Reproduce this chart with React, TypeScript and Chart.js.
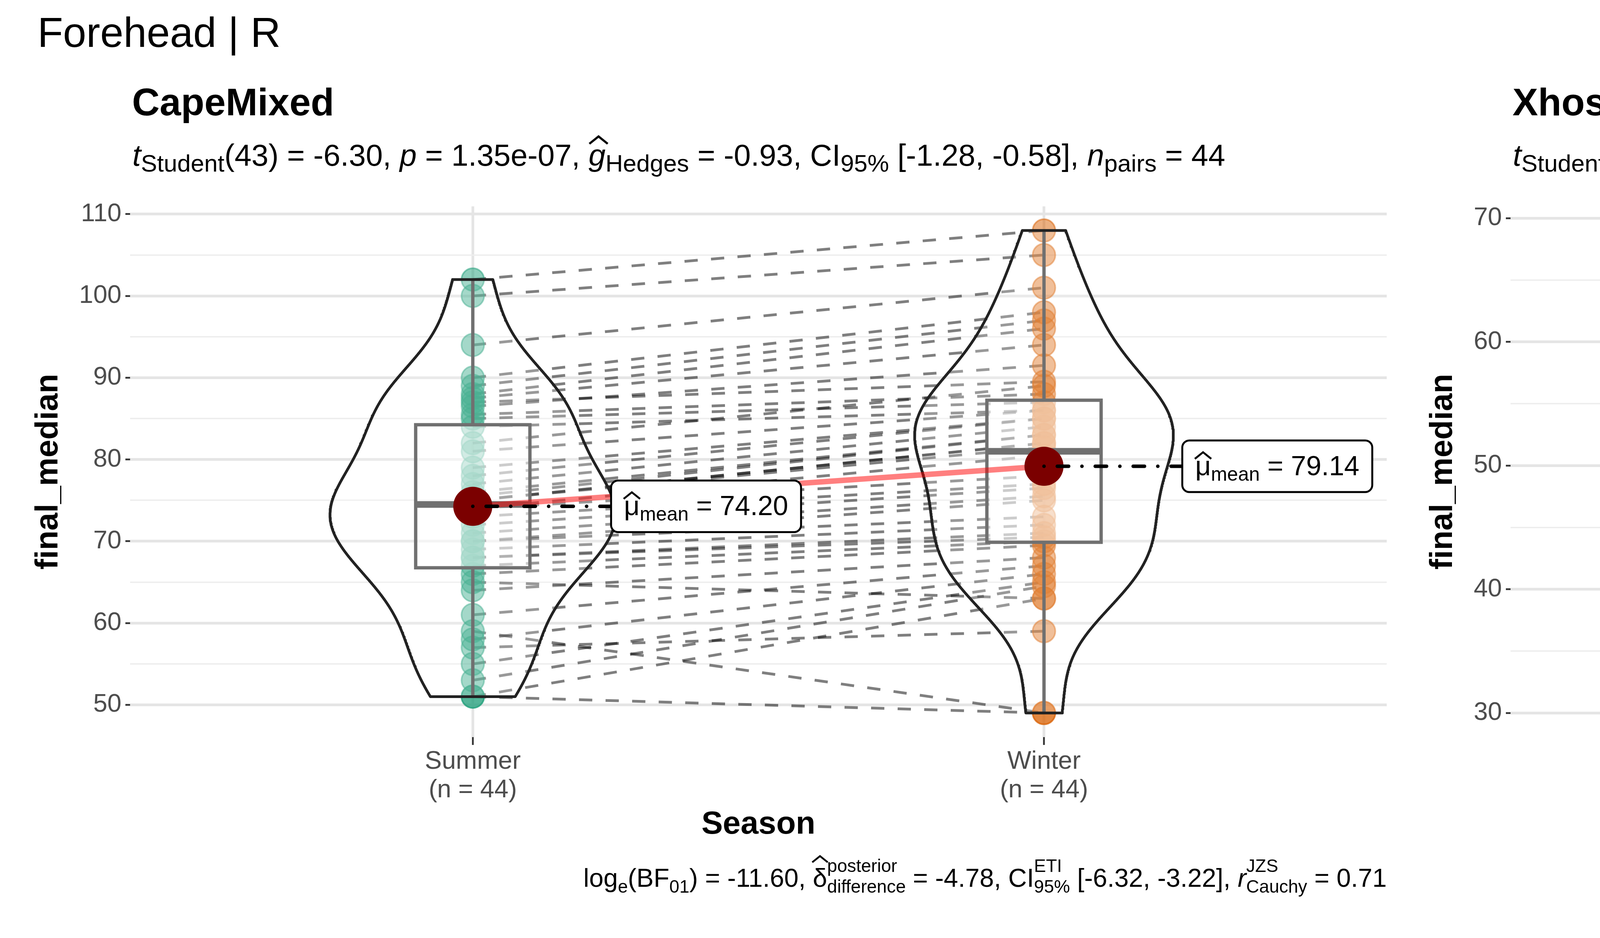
import React, { useEffect, useRef } from "react";
import { Chart, registerables } from "chart.js";

Chart.register(...registerables);

const FONT = '"Liberation Sans", Arial, Helvetica, sans-serif';
Chart.defaults.font.family = FONT;

// ---------------- data ----------------
const categories = ["Summer", "Winter"];

// paired observations (index i in Summer pairs with index i in Winter)
const capeMixedSummer = [102, 100, 94, 90, 89, 88, 87.5, 87, 86.5, 85.5, 85, 84, 82, 81, 79, 78, 77, 76, 75.5, 75, 75, 75, 74, 74, 73, 72, 71, 70, 70, 69, 68, 68, 67, 66, 65, 64, 61, 59, 58, 57, 55, 53, 51, 51];
const capeMixedWinter = [108, 105, 101, 98, 97, 96, 94, 89.5, 91.5, 88, 87, 86, 89, 86, 85, 85, 84, 83, 83, 82, 82, 81.5, 80.5, 78, 77, 76.5, 75.5, 75, 73, 72, 71, 70.5, 70, 69.5, 63, 68, 67, 49, 66, 59, 65, 64.5, 49, 63];

const xhosaSummer = [69, 69, 67, 66, 66, 65, 61.5, 59.5, 59, 59, 58.5, 56.5, 54, 52, 51, 50.5, 50, 50, 49, 48.5, 48, 47.5, 47, 46, 45.5, 45, 43.5, 41.5, 39, 38.5, 38.5, 38, 32, 30];
const xhosaWinter = [64, 59, 60, 60, 40.5, 56, 55, 59, 56.5, 53, 52.5, 51.5, 51, 48, 50, 49, 47, 46, 45, 45, 44.5, 44, 43, 42, 41.5, 41, 38.5, 35, 36, 39, 35, 38, 40, 35];

const capeYMajor = [50, 60, 70, 80, 90, 100, 110];
const capeYMinor = [55, 65, 75, 85, 95, 105];
const xhosaYMajor = [30, 40, 50, 60, 70];
const xhosaYMinor = [35, 45, 55, 65];

const capeMeanLabels = ["74.20", "79.14"];
const xhosaMeanLabels = ["51.15", "47.01"];

const groupColors = ["27,158,119", "217,95,2"];

type Seg = { t: string; it?: boolean; hat?: number; sub?: string; sup?: string };

const capeSubtitle: Seg[] = [
  { t: "t", it: true, sub: "Student" }, { t: "(43) = -6.30, " }, { t: "p", it: true }, { t: " = 1.35e-07, " },
  { t: "g", it: true, hat: 0.72, sub: "Hedges" }, { t: " = -0.93, CI", sub: "95%" }, { t: " [-1.28, -0.58], " },
  { t: "n", it: true, sub: "pairs" }, { t: " = 44" },
];
const xhosaSubtitle: Seg[] = [
  { t: "t", it: true, sub: "Student" }, { t: "(33) = 3.84, " }, { t: "p", it: true }, { t: " = 5.23e-04, " },
  { t: "g", it: true, hat: 0.72, sub: "Hedges" }, { t: " = 0.64, CI", sub: "95%" }, { t: " [0.28, 1.00], " },
  { t: "n", it: true, sub: "pairs" }, { t: " = 34" },
];
const capeCaption: Seg[] = [
  { t: "log", sub: "e" }, { t: "(BF", sub: "01" }, { t: ") = -11.60, " },
  { t: "δ", hat: 0.95, sup: "posterior", sub: "difference" }, { t: " = -4.78, CI", sup: "ETI", sub: "95%" },
  { t: " [-6.32, -3.22], " }, { t: "r", it: true, sup: "JZS", sub: "Cauchy" }, { t: " = 0.71" },
];
const xhosaCaption: Seg[] = [
  { t: "log", sub: "e" }, { t: "(BF", sub: "01" }, { t: ") = -4.04, " },
  { t: "δ", hat: 0.95, sup: "posterior", sub: "difference" }, { t: " = 3.90, CI", sup: "ETI", sub: "95%" },
  { t: " [1.76, 6.12], " }, { t: "r", it: true, sup: "JZS", sub: "Cauchy" }, { t: " = 0.71" },
];

// ---------------- helpers ----------------
function fnt(size: number, it = false, bold = false) {
  return `${it ? "italic " : ""}${bold ? "bold " : ""}${size}px ${FONT}`;
}

type RichStyle = { size: number; script: number; subDy: number; supDy: number; align: "left" | "right"; color: string };

function richWidth(ctx: CanvasRenderingContext2D, segs: Seg[], st: RichStyle) {
  let total = 0;
  const ws = segs.map((s) => {
    ctx.font = fnt(st.size, !!s.it);
    const mw = ctx.measureText(s.t).width;
    ctx.font = fnt(st.script);
    const sw = Math.max(s.sub ? ctx.measureText(s.sub).width : 0, s.sup ? ctx.measureText(s.sup).width : 0);
    total += mw + sw;
    return [mw, sw];
  });
  return { total, ws };
}

function drawRich(ctx: CanvasRenderingContext2D, segs: Seg[], x: number, y: number, st: RichStyle) {
  const { total, ws } = richWidth(ctx, segs, st);
  let cx = st.align === "right" ? x - total : x;
  ctx.save();
  ctx.fillStyle = st.color;
  ctx.strokeStyle = st.color;
  ctx.textAlign = "left";
  ctx.textBaseline = "alphabetic";
  segs.forEach((s, i) => {
    const [mw, sw] = ws[i];
    ctx.font = fnt(st.size, !!s.it);
    ctx.fillText(s.t, cx, y);
    if (s.hat !== undefined) {
      const hc = cx + mw / 2 + (s.it ? st.size * 0.05 : 0);
      const bottom = y - s.hat * st.size;
      const h = 0.24 * st.size;
      const hw = 0.3 * st.size;
      ctx.beginPath();
      ctx.lineWidth = 0.07 * st.size;
      ctx.lineJoin = "miter";
      ctx.moveTo(hc - hw, bottom);
      ctx.lineTo(hc, bottom - h);
      ctx.lineTo(hc + hw, bottom);
      ctx.stroke();
    }
    cx += mw;
    ctx.font = fnt(st.script);
    if (s.sub) ctx.fillText(s.sub, cx, y + st.subDy);
    if (s.sup) ctx.fillText(s.sup, cx, y - st.supDy);
    cx += sw;
  });
  ctx.restore();
  return total;
}

function quantile7(arr: number[], p: number) {
  const s = [...arr].sort((a, b) => a - b);
  const h = (s.length - 1) * p;
  const lo = Math.floor(h);
  const hi = Math.ceil(h);
  return s[lo] + (h - lo) * (s[hi] - s[lo]);
}
function mean(arr: number[]) {
  return arr.reduce((a, b) => a + b, 0) / arr.length;
}
function sd(arr: number[]) {
  const m = mean(arr);
  return Math.sqrt(arr.reduce((a, b) => a + (b - m) * (b - m), 0) / (arr.length - 1));
}
function bwNrd0(x: number[]) {
  const hi = sd(x);
  const iqr = quantile7(x, 0.75) - quantile7(x, 0.25);
  let lo = Math.min(hi, iqr / 1.34);
  if (!(lo > 0)) lo = hi || 1;
  return 0.9 * lo * Math.pow(x.length, -0.2);
}
function kde(x: number[], n = 512) {
  const bw = bwNrd0(x);
  const mn = Math.min(...x);
  const mx = Math.max(...x);
  const out: { y: number; d: number }[] = [];
  const k = 1 / (x.length * bw * Math.sqrt(2 * Math.PI));
  for (let i = 0; i < n; i++) {
    const y = mn + ((mx - mn) * i) / (n - 1);
    let d = 0;
    for (const v of x) {
      const z = (y - v) / bw;
      d += Math.exp(-0.5 * z * z);
    }
    out.push({ y, d: d * k });
  }
  return out;
}

type Panel = {
  title: string;
  summer: number[];
  winter: number[];
  major: number[];
  minor: number[];
  subtitle: Seg[];
  caption: Seg[];
  meanLabels: string[];
  chartLeft: number;
  chartRight: number;
  yTitlePad: number;
  overall: boolean;
};

const panels: Panel[] = [
  {
    title: "CapeMixed", summer: capeMixedSummer, winter: capeMixedWinter, major: capeYMajor, minor: capeYMinor,
    subtitle: capeSubtitle, caption: capeCaption, meanLabels: capeMeanLabels,
    chartLeft: 333, chartRight: 3575, yTitlePad: 55, overall: true,
  },
  {
    title: "Xhosa", summer: xhosaSummer, winter: xhosaWinter, major: xhosaYMajor, minor: xhosaYMinor,
    subtitle: xhosaSubtitle, caption: xhosaCaption, meanLabels: xhosaMeanLabels,
    chartLeft: 267, chartRight: 3512, yTitlePad: 25, overall: false,
  },
];

const CANVAS_W = 3600;
const CANVAS_H = 2400;
const CHART_TOP = 528;
const CHART_BOTTOM = 1886;
const X_AXIS_H = 280;

function buildChart(canvas: HTMLCanvasElement, p: Panel) {
  const groups = [p.summer, p.winter];
  const all = [...p.summer, ...p.winter];
  const dmin = Math.min(...all);
  const dmax = Math.max(...all);
  const padY = (dmax - dmin) * 0.05;
  const yMin = dmin - padY;
  const yMax = dmax + padY;
  const dens = groups.map((g) => kde(g));
  const maxD = Math.max(...dens.map((d) => Math.max(...d.map((q) => q.d))));
  const boxGray = "#4D4D4D";

  const datasets: any[] = [];
  // paired paths
  p.summer.forEach((s, i) => {
    datasets.push({
      data: [{ x: 1, y: s }, { x: 2, y: p.winter[i] }],
      borderColor: "rgba(0,0,0,0.5)", borderWidth: 7, borderDash: [34, 34],
      pointRadius: 0, fill: false, order: 100,
    });
  });
  // points
  groups.forEach((g, gi) => {
    datasets.push({
      data: g.map((v) => ({ x: gi + 1, y: v })),
      showLine: false, pointRadius: 29, pointBorderWidth: 4,
      pointBackgroundColor: `rgba(${groupColors[gi]},0.5)`,
      pointBorderColor: `rgba(${groupColors[gi]},0.5)`,
      order: 90,
    });
  });
  // boxplots
  groups.forEach((g, gi) => {
    const c = gi + 1;
    const q1 = quantile7(g, 0.25);
    const med = quantile7(g, 0.5);
    const q3 = quantile7(g, 0.75);
    const iqr = q3 - q1;
    const hi = Math.max(...g.filter((v) => v <= q3 + 1.5 * iqr));
    const lo = Math.min(...g.filter((v) => v >= q1 - 1.5 * iqr));
    const w = 0.1;
    datasets.push({
      data: [{ x: c - w, y: q1 }, { x: c + w, y: q1 }, { x: c + w, y: q3 }, { x: c - w, y: q3 }, { x: c - w, y: q1 }, { x: c + w, y: q1 }],
      borderColor: boxGray, borderWidth: 8.5, borderJoinStyle: "miter", fill: "shape",
      backgroundColor: "rgba(255,255,255,0.5)", pointRadius: 0, order: 80,
    });
    datasets.push({ data: [{ x: c, y: q3 }, { x: c, y: hi }], borderColor: boxGray, borderWidth: 8.5, pointRadius: 0, fill: false, order: 80 });
    datasets.push({ data: [{ x: c, y: q1 }, { x: c, y: lo }], borderColor: boxGray, borderWidth: 8.5, pointRadius: 0, fill: false, order: 80 });
    datasets.push({ data: [{ x: c - w, y: med }, { x: c + w, y: med }], borderColor: boxGray, borderWidth: 17, pointRadius: 0, fill: false, order: 79 });
  });
  // violins
  dens.forEach((d, gi) => {
    const c = gi + 1;
    const right = d.map((q) => ({ x: c + (0.25 * q.d) / maxD, y: q.y }));
    const left = [...d].reverse().map((q) => ({ x: c - (0.25 * q.d) / maxD, y: q.y }));
    datasets.push({
      data: [...right, ...left, right[0], right[1]],
      borderColor: "#222222", borderWidth: 7, borderJoinStyle: "round", fill: "shape",
      backgroundColor: "rgba(255,255,255,0.2)", pointRadius: 0, tension: 0, order: 70,
    });
  });
  // mean path
  const means = groups.map((g) => mean(g));
  datasets.push({
    data: means.map((m, i) => ({ x: i + 1, y: m })),
    borderColor: "rgba(255,0,0,0.5)", borderWidth: 14, pointRadius: 0, fill: false, order: 60,
  });
  // mean points
  datasets.push({
    data: means.map((m, i) => ({ x: i + 1, y: m })),
    showLine: false, pointRadius: 50, pointBorderWidth: 0,
    pointBackgroundColor: "#7B0000", pointBorderColor: "#7B0000", order: 50,
  });

  const allTicks = [...p.major, ...p.minor].sort((a, b) => a - b);
  const isMajor = (c: any) => c && c.tick && p.major.includes(c.tick.value);

  const textPlugin = {
    id: "panelText",
    afterDatasetsDraw(chart: any) {
      const ctx: CanvasRenderingContext2D = chart.ctx;
      const xs = chart.scales.x;
      const ys = chart.scales.y;
      means.forEach((m, i) => {
        const px = xs.getPixelForValue(i + 1);
        const py = ys.getPixelForValue(m);
        const segs: Seg[] = [{ t: "μ", hat: 0.6, sub: "mean" }, { t: " = " + p.meanLabels[i] }];
        const st: RichStyle = { size: 70, script: 50, subDy: 14, supDy: 0, align: "left", color: "#000" };
        const { total } = richWidth(ctx, segs, st);
        const bx = px + 354;
        const bw = total + 66;
        const bh = 132;
        const by = py - bh / 2;
        ctx.save();
        ctx.beginPath();
        ctx.setLineDash([0.1, 34, 29, 34]);
        ctx.lineCap = "round";
        ctx.lineWidth = 9;
        ctx.strokeStyle = "#000";
        ctx.moveTo(px, py);
        ctx.lineTo(bx, py);
        ctx.stroke();
        ctx.setLineDash([]);
        ctx.lineCap = "butt";
        ctx.beginPath();
        const r = 18;
        ctx.moveTo(bx + r, by);
        ctx.lineTo(bx + bw - r, by);
        ctx.arcTo(bx + bw, by, bx + bw, by + r, r);
        ctx.lineTo(bx + bw, by + bh - r);
        ctx.arcTo(bx + bw, by + bh, bx + bw - r, by + bh, r);
        ctx.lineTo(bx + r, by + bh);
        ctx.arcTo(bx, by + bh, bx, by + bh - r, r);
        ctx.lineTo(bx, by + r);
        ctx.arcTo(bx, by, bx + r, by, r);
        ctx.closePath();
        ctx.fillStyle = "#fff";
        ctx.fill();
        ctx.lineWidth = 5;
        ctx.stroke();
        ctx.restore();
        drawRich(ctx, segs, bx + 33, py + 23, st);
      });
    },
    afterDraw(chart: any) {
      const ctx: CanvasRenderingContext2D = chart.ctx;
      const area = chart.chartArea;
      ctx.save();
      ctx.fillStyle = "#000";
      ctx.textAlign = "left";
      ctx.textBaseline = "alphabetic";
      if (p.overall) {
        ctx.font = fnt(107);
        ctx.fillText("Forehead | R", 96, 120);
      }
      ctx.font = fnt(98, false, true);
      ctx.fillText(p.title, area.left + 5, 295);
      ctx.restore();
      drawRich(ctx, p.subtitle, area.left + 6, 424, { size: 78, script: 62, subDy: 15, supDy: 0, align: "left", color: "#000" });
      drawRich(ctx, p.caption, area.right, area.bottom + 383, { size: 66, script: 46, subDy: 15, supDy: 38, align: "right", color: "#000" });
    },
  };

  const cfg: any = {
    type: "line",
    data: { datasets },
    options: {
      responsive: false,
      maintainAspectRatio: false,
      animation: false,
      devicePixelRatio: 1,
      events: [],
      layout: { padding: { left: 20, top: CHART_TOP, right: CANVAS_W - p.chartRight, bottom: CANVAS_H - CHART_BOTTOM - X_AXIS_H } },
      plugins: { legend: { display: false }, tooltip: { enabled: false } },
      scales: {
        x: {
          type: "linear",
          min: 0.4,
          max: 2.6,
          afterBuildTicks: (ax: any) => {
            ax.ticks = categories.map((_, i) => ({ value: i + 1 }));
          },
          afterFit: (ax: any) => {
            ax.height = X_AXIS_H;
          },
          ticks: {
            autoSkip: false,
            maxRotation: 0,
            padding: 7,
            color: "#4D4D4D",
            font: { size: 65, lineHeight: 1.12 },
            callback: (v: number) => {
              const i = Math.round(v) - 1;
              return [categories[i], `(n = ${groups[i].length})`];
            },
          },
          grid: { color: "#E5E5E5", lineWidth: 7, tickLength: 20, tickColor: "#333333", tickWidth: 4.5 },
          border: { display: false },
          title: { display: true, text: "Season", color: "#000", font: { size: 82, weight: "bold" }, padding: { top: 0, bottom: 6 } },
        },
        y: {
          type: "linear",
          min: yMin,
          max: yMax,
          afterBuildTicks: (ax: any) => {
            ax.ticks = allTicks.map((v) => ({ value: v }));
          },
          afterFit: (ax: any) => {
            ax.width = p.chartLeft - 20;
          },
          ticks: {
            autoSkip: false,
            padding: 10,
            color: "#4D4D4D",
            font: { size: 65 },
            callback: (v: number) => (p.major.includes(v) ? String(v) : ""),
          },
          grid: {
            color: (c: any) => (isMajor(c) ? "#E5E5E5" : "#EDEDED"),
            lineWidth: (c: any) => (isMajor(c) ? 7 : 3.5),
            tickLength: 12,
            tickColor: (c: any) => (isMajor(c) ? "#333333" : "rgba(0,0,0,0)"),
            tickWidth: 4.5,
          },
          border: { display: false },
          title: { display: true, text: "final_median", color: "#000", font: { size: 82, weight: "bold" }, padding: { top: p.yTitlePad, bottom: 0 } },
        },
      },
    },
    plugins: [textPlugin],
  };
  return new Chart(canvas, cfg);
}

export default function App() {
  const leftRef = useRef<HTMLCanvasElement | null>(null);
  const rightRef = useRef<HTMLCanvasElement | null>(null);

  useEffect(() => {
    const charts: Chart[] = [];
    if (leftRef.current) charts.push(buildChart(leftRef.current, panels[0]));
    if (rightRef.current) charts.push(buildChart(rightRef.current, panels[1]));
    return () => {
      charts.forEach((c) => c.destroy());
    };
  }, []);

  return (
    <div style={{ position: "fixed", left: 0, top: 0, width: 7200, height: 2400, background: "#ffffff", display: "flex" }}>
      <canvas ref={leftRef} width={CANVAS_W} height={CANVAS_H} style={{ width: CANVAS_W, height: CANVAS_H, display: "block" }} />
      <canvas ref={rightRef} width={CANVAS_W} height={CANVAS_H} style={{ width: CANVAS_W, height: CANVAS_H, display: "block" }} />
    </div>
  );
}
